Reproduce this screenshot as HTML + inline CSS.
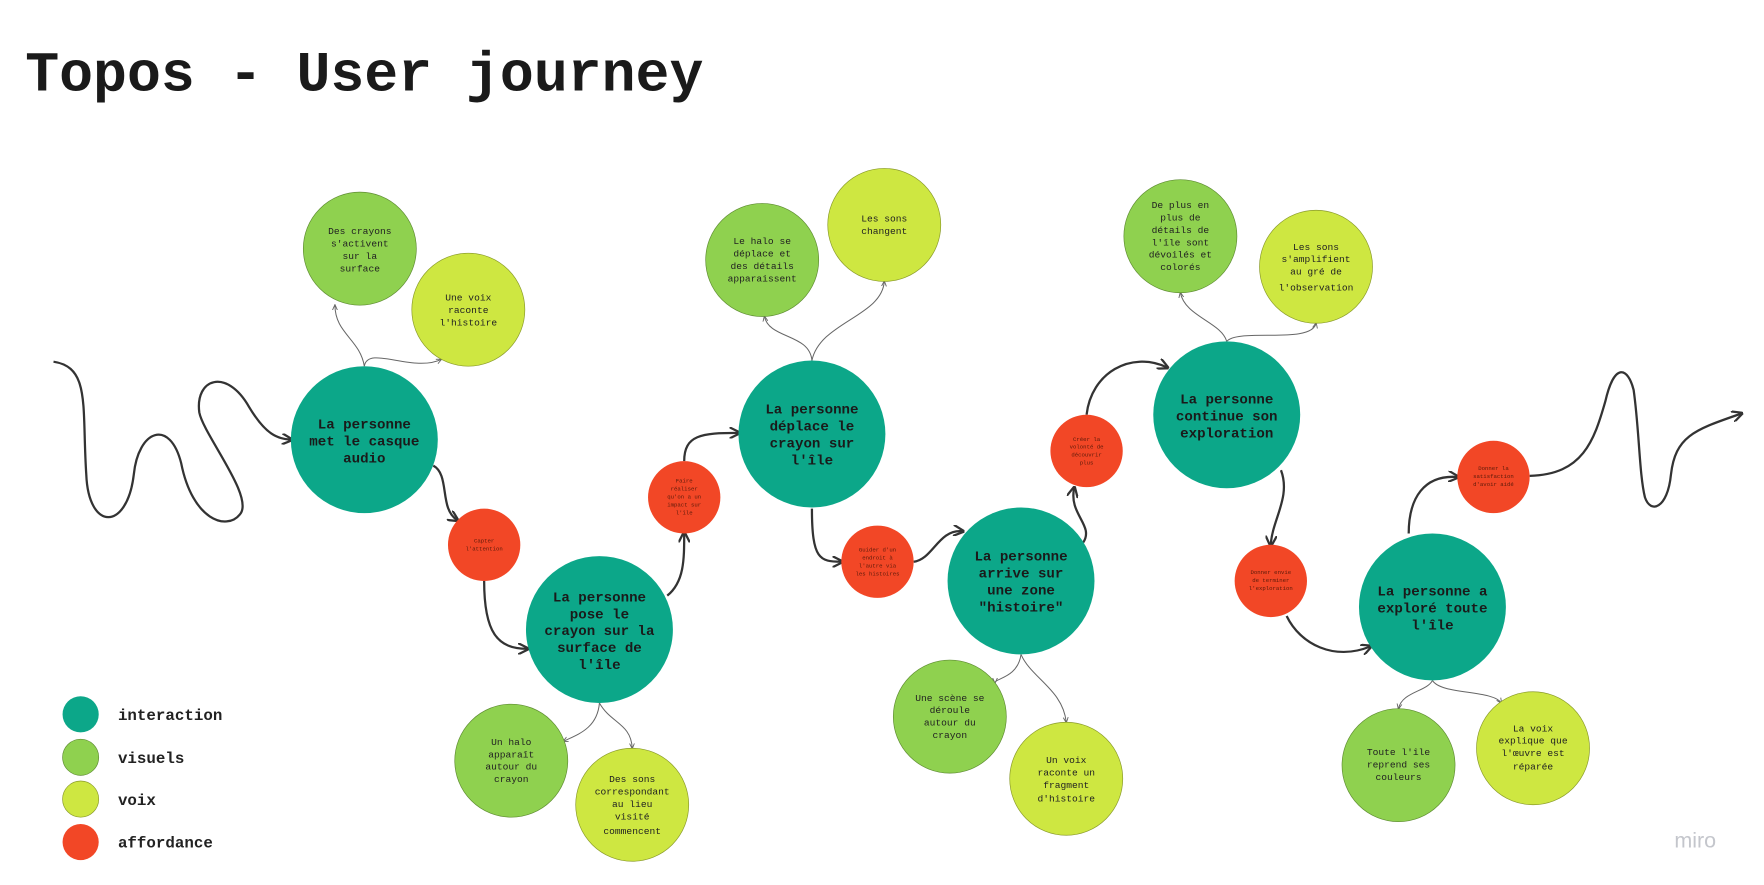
<!DOCTYPE html>
<html><head><meta charset="utf-8"><style>
html,body{margin:0;padding:0;background:#fff;}
svg{display:block;}
text{font-family:"Liberation Mono",monospace;}
.m{font-size:12.5px;font-weight:bold;fill:#1a1a1a;}
.s{font-size:8.5px;fill:#222;}
.r{font-size:5px;fill:#5a1a0a;}
.thick{fill:none;stroke:#333;stroke-width:2;}
.thin{fill:none;stroke:#666;stroke-width:0.9;}
</style></head><body>
<svg width="1764" height="885" viewBox="0 0 1560 783" xmlns="http://www.w3.org/2000/svg">
<defs>
<marker id="ah" viewBox="0 0 10 10" refX="8" refY="5" markerWidth="5" markerHeight="5" orient="auto"><path d="M0,0 L10,5 L0,10" fill="none" stroke="#333" stroke-width="2"/></marker>
<marker id="ahs" viewBox="0 0 10 10" refX="8" refY="5" markerWidth="6" markerHeight="6" orient="auto"><path d="M0,1 L9,5 L0,9" fill="none" stroke="#666" stroke-width="1.5"/></marker>
</defs>
<text x="22" y="80" font-size="50" font-weight="bold" fill="#1a1a1a">Topos - User journey</text>

<g>
<path class="thick" marker-end="url(#ah)" d="M47,320 C80,325 72,360 76,420 C78,470 112,470 118,420 C122,380 150,370 160,410 C170,460 200,470 212,455 C225,440 180,385 176,365 C172,335 200,325 220,360 C235,385 245,388 257,389"/>
<path class="thick" marker-end="url(#ah)" d="M383,412 C398,420 388,450 404,460"/>
<path class="thick" marker-end="url(#ah)" d="M428,514 C428,560 440,574 466,574"/>
<path class="thick" marker-end="url(#ah)" d="M590,527 C605,515 605,495 605,472"/>
<path class="thick" marker-end="url(#ah)" d="M605,408 C605,385 620,383 653,383"/>
<path class="thick" marker-end="url(#ah)" d="M718,450 C718,495 725,497 744,497"/>
<path class="thick" marker-end="url(#ah)" d="M808,497 C825,495 830,468 851,470"/>
<path class="thick" marker-end="url(#ah)" d="M958,480 C968,465 945,455 950,432"/>
<path class="thick" marker-end="url(#ah)" d="M961,367 C965,330 1000,310 1032,325"/>
<path class="thick" marker-end="url(#ah)" d="M1133,416 C1142,440 1125,460 1124,482"/>
<path class="thick" marker-end="url(#ah)" d="M1138,545 C1150,570 1180,585 1212,572"/>
<path class="thick" marker-end="url(#ah)" d="M1246,472 C1246,440 1260,420 1289,422"/>
<path class="thick" marker-end="url(#ah)" d="M1353,421 C1400,420 1410,390 1420,355 C1428,320 1440,325 1445,345 C1450,380 1450,420 1455,440 C1460,455 1475,450 1478,420 C1482,385 1500,380 1540,366"/>
</g>

<g>
<path class="thin" marker-end="url(#ahs)" d="M322,324 C318,300 296,295 296,270"/>
<path class="thin" marker-end="url(#ahs)" d="M322,324 C325,305 365,330 390,318"/>
<path class="thin" marker-end="url(#ahs)" d="M718,319 C716,295 680,300 676,280"/>
<path class="thin" marker-end="url(#ahs)" d="M718,319 C725,285 780,280 782,249"/>
<path class="thin" marker-end="url(#ahs)" d="M1085,302 C1080,285 1048,280 1044,259"/>
<path class="thin" marker-end="url(#ahs)" d="M1085,302 C1095,290 1160,305 1164,286"/>
<path class="thin" marker-end="url(#ahs)" d="M530,622 C528,645 510,650 498,656"/>
<path class="thin" marker-end="url(#ahs)" d="M530,622 C540,640 558,640 559,662"/>
<path class="thin" marker-end="url(#ahs)" d="M903,579 C900,600 880,600 880,604"/>
<path class="thin" marker-end="url(#ahs)" d="M903,579 C912,600 940,610 943,639"/>
<path class="thin" marker-end="url(#ahs)" d="M1267,602 C1262,612 1240,612 1237,627"/>
<path class="thin" marker-end="url(#ahs)" d="M1267,602 C1275,615 1320,610 1328,622"/>
</g>

<g fill="#8fd14f" stroke="#5f8d33" stroke-width="0.6">
<circle cx="318" cy="220" r="50"/>
<circle cx="674" cy="230" r="50"/>
<circle cx="1044" cy="209" r="50"/>
<circle cx="452" cy="673" r="50"/>
<circle cx="840" cy="634" r="50"/>
<circle cx="1237" cy="677" r="50"/>
</g>
<g fill="#cee741" stroke="#8a9b2b" stroke-width="0.6">
<circle cx="414" cy="274" r="50"/>
<circle cx="782" cy="199" r="50"/>
<circle cx="1164" cy="236" r="50"/>
<circle cx="559" cy="712" r="50"/>
<circle cx="943" cy="689" r="50"/>
<circle cx="1356" cy="662" r="50"/>
</g>
<g fill="#0ca789">
<circle cx="322" cy="389" r="65"/>
<circle cx="530" cy="557" r="65"/>
<circle cx="718" cy="384" r="65"/>
<circle cx="903" cy="514" r="65"/>
<circle cx="1085" cy="367" r="65"/>
<circle cx="1267" cy="537" r="65"/>
</g>
<g fill="#f24726">
<circle cx="428" cy="482" r="32"/>
<circle cx="605" cy="440" r="32"/>
<circle cx="776" cy="497" r="32"/>
<circle cx="961" cy="399" r="32"/>
<circle cx="1124" cy="514" r="32"/>
<circle cx="1321" cy="422" r="32"/>
</g>

<g text-anchor="middle" class="m">
<text x="322" y="379">La personne</text><text x="322" y="394">met le casque</text><text x="322" y="409">audio</text>
<text x="530" y="532">La personne</text><text x="530" y="547">pose le</text><text x="530" y="562">crayon sur la</text><text x="530" y="577">surface de</text><text x="530" y="592">l'île</text>
<text x="718" y="366">La personne</text><text x="718" y="381">déplace le</text><text x="718" y="396">crayon sur</text><text x="718" y="411">l'île</text>
<text x="903" y="496">La personne</text><text x="903" y="511">arrive sur</text><text x="903" y="526">une zone</text><text x="903" y="541">"histoire"</text>
<text x="1085" y="357">La personne</text><text x="1085" y="372">continue son</text><text x="1085" y="387">exploration</text>
<text x="1267" y="527">La personne a</text><text x="1267" y="542">exploré toute</text><text x="1267" y="557">l'île</text>
</g>
<g text-anchor="middle" class="s">
<text x="318" y="207">Des crayons</text><text x="318" y="218">s'activent</text><text x="318" y="229">sur la</text><text x="318" y="240">surface</text>
<text x="674" y="216">Le halo se</text><text x="674" y="227">déplace et</text><text x="674" y="238">des détails</text><text x="674" y="249">apparaissent</text>
<text x="1044" y="184">De plus en</text><text x="1044" y="195">plus de</text><text x="1044" y="206">détails de</text><text x="1044" y="217">l'île sont</text><text x="1044" y="228">dévoilés et</text><text x="1044" y="239">colorés</text>
<text x="452" y="659">Un halo</text><text x="452" y="670">apparaît</text><text x="452" y="681">autour du</text><text x="452" y="692">crayon</text>
<text x="840" y="620">Une scène se</text><text x="840" y="631">déroule</text><text x="840" y="642">autour du</text><text x="840" y="653">crayon</text>
<text x="1237" y="668">Toute l'île</text><text x="1237" y="679">reprend ses</text><text x="1237" y="690">couleurs</text>
<text x="414" y="266">Une voix</text><text x="414" y="277">raconte</text><text x="414" y="288">l'histoire</text>
<text x="782" y="196">Les sons</text><text x="782" y="207">changent</text>
<text x="1164" y="221">Les sons</text><text x="1164" y="232">s'amplifient</text><text x="1164" y="243">au gré de</text><text x="1164" y="257">l'observation</text>
<text x="559" y="692">Des sons</text><text x="559" y="703">correspondant</text><text x="559" y="714">au lieu</text><text x="559" y="725">visité</text><text x="559" y="738">commencent</text>
<text x="943" y="675">Un voix</text><text x="943" y="686">raconte un</text><text x="943" y="697">fragment</text><text x="943" y="709">d'histoire</text>
<text x="1356" y="647">La voix</text><text x="1356" y="658">explique que</text><text x="1356" y="669">l'œuvre est</text><text x="1356" y="681">réparée</text>
</g>
<g text-anchor="middle" class="r">
<text x="428" y="480">Capter</text><text x="428" y="487">l'attention</text>
<text x="605" y="427">Faire</text><text x="605" y="434">réaliser</text><text x="605" y="441">qu'on a un</text><text x="605" y="448">impact sur</text><text x="605" y="455">l'île</text>
<text x="776" y="488">Guider d'un</text><text x="776" y="495">endroit à</text><text x="776" y="502">l'autre via</text><text x="776" y="509">les histoires</text>
<text x="961" y="390">Créer la</text><text x="961" y="397">volonté de</text><text x="961" y="404">découvrir</text><text x="961" y="411">plus</text>
<text x="1124" y="508">Donner envie</text><text x="1124" y="515">de terminer</text><text x="1124" y="522">l'exploration</text>
<text x="1321" y="416">Donner la</text><text x="1321" y="423">satisfaction</text><text x="1321" y="430">d'avoir aidé</text>
</g>

<g>
<circle cx="71" cy="632" r="16" fill="#0ca789"/>
<circle cx="71" cy="670" r="16" fill="#8fd14f" stroke="#5f8d33" stroke-width="0.6"/>
<circle cx="71" cy="707" r="16" fill="#cee741" stroke="#8a9b2b" stroke-width="0.6"/>
<circle cx="71" cy="745" r="16" fill="#f24726"/>
<text x="104" y="637" font-size="14" font-weight="bold" fill="#222">interaction</text>
<text x="104" y="675" font-size="14" font-weight="bold" fill="#222">visuels</text>
<text x="104" y="712" font-size="14" font-weight="bold" fill="#222">voix</text>
<text x="104" y="750" font-size="14" font-weight="bold" fill="#222">affordance</text>
</g>
<text x="1481" y="750" font-family="Liberation Sans, sans-serif" font-size="19" fill="#c4c6cc" style="font-family:'Liberation Sans',sans-serif">miro</text>
</svg>
</body></html>
